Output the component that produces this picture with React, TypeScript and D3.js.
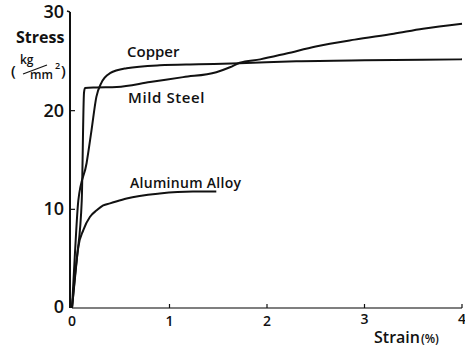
import React from "react";
import * as d3 from "d3";

// Stress–strain curves: strain in %, stress in kg/mm²
const copperStrain = [0, 0.03, 0.065, 0.15, 0.2, 0.25, 0.3, 0.39, 0.56, 0.9, 1.3, 1.72, 2.3, 3.0, 3.6, 4.0];
const copperStress = [0, 5.5, 10.9, 14.7, 18.0, 21.4, 22.8, 23.8, 24.3, 24.6, 24.7, 24.8, 25.0, 25.1, 25.15, 25.2];

const steelStrain = [0, 0.05, 0.1, 0.123, 0.133, 0.25, 0.46, 0.8, 1.14, 1.48, 1.62, 1.72, 1.93, 2.2, 2.5, 2.9, 3.3, 3.6, 4.0];
const steelStress = [0, 5.0, 10.9, 21.8, 22.3, 22.35, 22.4, 22.9, 23.4, 23.9, 24.4, 24.85, 25.2, 25.8, 26.5, 27.2, 27.8, 28.3, 28.8];

const alloyStrain = [0, 0.03, 0.065, 0.116, 0.185, 0.253, 0.32, 0.39, 0.56, 0.9, 1.24, 1.48];
const alloyStress = [0, 3.2, 6.2, 7.9, 9.25, 9.9, 10.4, 10.6, 11.1, 11.6, 11.8, 11.8];

const xTicks = [0, 1, 2, 3, 4];
const yTicks = [0, 10, 20, 30];

const W = 465;
const H = 348;
const font = "'Open Sans', 'DejaVu Sans', sans-serif";
const ink = "#111";

const x = d3.scaleLinear().domain([0, 4]).range([72, 462]);
const y = d3.scaleLinear().domain([0, 30]).range([308, 12]);

const zip = (xs: number[], ys: number[]) => xs.map((v, i) => [v, ys[i]] as [number, number]);

const line = d3
  .line<[number, number]>()
  .x((d) => x(d[0]))
  .y((d) => y(d[1]))
  .curve(d3.curveMonotoneX);

const series = [
  { name: "Copper", pts: zip(copperStrain, copperStress) },
  { name: "Mild Steel", pts: zip(steelStrain, steelStress) },
  { name: "Aluminum Alloy", pts: zip(alloyStrain, alloyStress) },
];

export default function App() {
  return (
    <svg
      width={W}
      height={H}
      style={{ position: "absolute", left: 0, top: 0, background: "#fff" }}
      fontFamily={font}
    >
      {/* axes */}
      <line x1={x(0) - 2} x2={x(0) - 2} y1={y(30)} y2={y(0)} stroke={ink} strokeWidth={2} />
      <line x1={x(0)} x2={x(4)} y1={y(0)} y2={y(0)} stroke="#555" strokeWidth={1.6} />
      <line x1={x(0) - 2} x2={x(0) - 5} y1={y(30)} y2={y(30) - 1} stroke={ink} strokeWidth={1.5} />
      {yTicks.filter((t) => t > 0 && t < 30).map((t) => (
        <line key={t} x1={x(0) - 2} x2={x(0) + 3} y1={y(t)} y2={y(t)} stroke={ink} strokeWidth={1.2} />
      ))}
      {xTicks.filter((t) => t > 0).map((t) => (
        <line key={t} x1={x(t)} x2={x(t)} y1={y(0)} y2={y(0) - 4} stroke={ink} strokeWidth={1.2} />
      ))}

      {/* tick labels */}
      {yTicks.map((t) => (
        <text
          key={t}
          x={x(0) - 8}
          y={y(t) + (t === 0 ? 5 : 6)}
          textAnchor="end"
          fontSize={18}
          fontWeight={600}
          fill={ink}
        >
          {t}
        </text>
      ))}
      {xTicks.map((t) => (
        <text
          key={t}
          x={x(t)}
          y={t >= 3 ? 324 : 326}
          textAnchor="middle"
          fontSize={14}
          fontWeight={600}
          fill={ink}
        >
          {t}
        </text>
      ))}

      {/* axis titles */}
      <text x={16} y={43} fontSize={16} fontWeight={700} fill={ink}>Stress</text>
      <g fill={ink} fontWeight={600}>
        <text x={11} y={76} fontSize={15}>(</text>
        <text x={20} y={64} fontSize={12}>kg</text>
        <line x1={23} y1={74} x2={47} y2={65} stroke={ink} strokeWidth={1.2} />
        <text x={30} y={79} fontSize={12}>mm</text>
        <text x={55} y={69} fontSize={9}>2</text>
        <text x={61} y={76} fontSize={15}>)</text>
      </g>
      <text x={374} y={343} fontSize={16} fontWeight={600} fill={ink}>
        Strain
        <tspan fontSize={12} dx={1}>(%)</tspan>
      </text>

      {/* curves */}
      {series.map((s) => (
        <path key={s.name} d={line(s.pts) ?? ""} fill="none" stroke={ink} strokeWidth={2} strokeLinejoin="round" />
      ))}

      {/* curve labels */}
      <text x={127} y={57} fontSize={15} fontWeight={600} fill={ink}>Copper</text>
      <text x={128} y={103} fontSize={15} fontWeight={600} fill={ink} letterSpacing={0.6}>Mild Steel</text>
      <text x={130} y={188} fontSize={14} fontWeight={600} fill={ink} letterSpacing={0.3}>Aluminum Alloy</text>
    </svg>
  );
}
